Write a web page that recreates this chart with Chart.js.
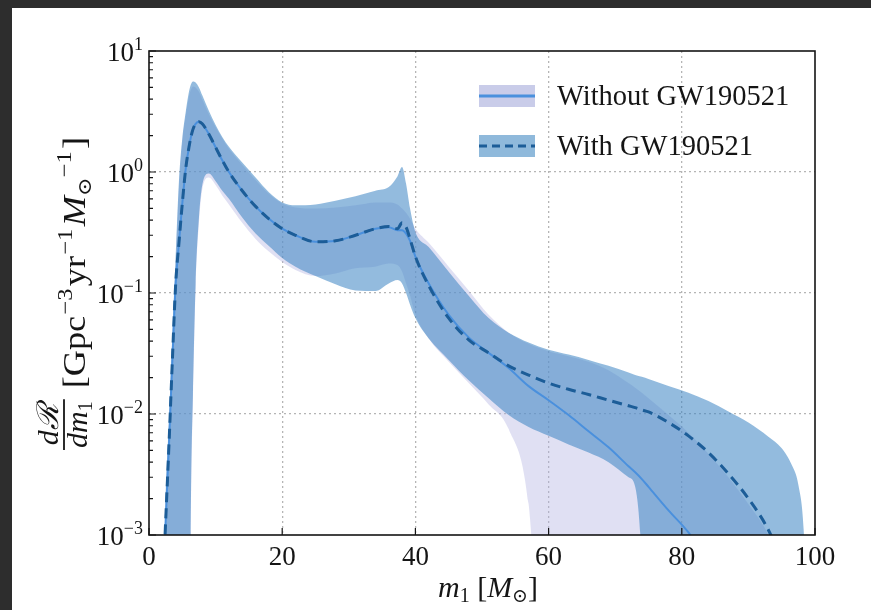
<!DOCTYPE html>
<html>
<head>
<meta charset="utf-8">
<script src="https://cdn.jsdelivr.net/npm/chart.js@4"></script>
<style>
  html, body { margin: 0; padding: 0; background: #2d2d2d; }
  #wrap { position: absolute; left: 12px; top: 8px; width: 859px; height: 602px; background: #fff; }
</style>
</head>
<body>
<div id="wrap"><canvas id="myChart" width="859" height="602"></canvas></div>
<script>
// primary mass grid (M_sun)
const mass = [
    2, 2.5, 3, 3.5, 4, 4.5, 5, 5.5, 6, 6.3,
    6.6, 7, 7.5, 8, 9, 10, 11, 12, 14, 16,
    18, 20, 22, 25, 28, 31, 34, 36, 37.3, 38,
    38.6, 39.2, 40, 42, 45, 48, 51, 54, 57, 60,
    63, 66, 69, 72, 73, 74, 75, 78, 81, 84,
    87, 90, 93, 95, 96.5, 97.5, 98.3, 99
];

// median rates
const withMedian = [
    3e-4, 0.0013, 0.0056, 0.027, 0.117, 0.26, 0.55, 1.05, 1.6, 1.95,
    2.25, 2.5, 2.6, 2.5, 2.05, 1.6, 1.25, 1.0, 0.7, 0.52,
    0.41, 0.34, 0.3, 0.265, 0.27, 0.3, 0.34, 0.355, 0.34, 0.38,
    0.35, 0.28, 0.2, 0.115, 0.062, 0.041, 0.032, 0.025, 0.021, 0.018,
    0.016, 0.0145, 0.013, 0.0117, 0.0113, 0.0108, 0.0104, 0.0085, 0.0066, 0.0048,
    0.0032, 0.002, 0.0011, 6e-4, 3e-4, 2e-4, 1e-4, 1e-4
];
const withoutMedian = [
    3e-4, 0.0013, 0.0056, 0.027, 0.117, 0.26, 0.55, 1.05, 1.6, 1.95,
    2.25, 2.5, 2.6, 2.5, 2.05, 1.6, 1.25, 1.0, 0.7, 0.52,
    0.41, 0.34, 0.3, 0.265, 0.27, 0.3, 0.34, 0.35, 0.33, 0.33,
    0.31, 0.27, 0.2, 0.12, 0.066, 0.043, 0.032, 0.024, 0.017, 0.013,
    0.0098, 0.0072, 0.0053, 0.0037, 0.0033, 0.0029, 0.0025, 0.0016, 0.00105, 6e-4,
    3.2e-4, 1.6e-4, 1e-4, 1e-4, 1e-4, 1e-4, 1e-4, 1e-4
];

// 90% credible bands
const withUpper = [
    1e-4, 0.002, 0.009, 0.045, 0.2, 0.85, 1.9, 3.1, 4.6, 5.3,
    5.6, 5.5, 5.0, 4.3, 3.2, 2.45, 1.95, 1.62, 1.2, 0.9,
    0.68, 0.56, 0.53, 0.54, 0.58, 0.63, 0.7, 0.75, 0.92, 1.1,
    0.8, 0.5, 0.32, 0.24, 0.15, 0.095, 0.062, 0.047, 0.039, 0.034,
    0.031, 0.028, 0.025, 0.022, 0.021, 0.0203, 0.0195, 0.017, 0.015, 0.0128,
    0.0105, 0.0085, 0.0065, 0.0052, 0.0038, 0.0026, 0.0011, 1e-4
];
const withLower = [
    1e-5, 1e-5, 1e-5, 1e-5, 1e-5, 1e-5, 1e-5, 1e-5, 1e-5, 0.002,
    0.015, 0.12, 0.42, 0.78, 0.97, 0.84, 0.7, 0.6, 0.42, 0.31,
    0.245, 0.195, 0.165, 0.138, 0.118, 0.105, 0.104, 0.12, 0.128, 0.12,
    0.1, 0.08, 0.062, 0.042, 0.028, 0.019, 0.0135, 0.0098, 0.0078, 0.0066,
    0.0056, 0.0048, 0.004, 0.003, 0.0025, 0.0006, 1e-5, 1e-5, 1e-5, 1e-5,
    1e-5, 1e-5, 1e-5, 1e-5, 1e-5, 1e-5, 1e-5, 1e-5
];
const withoutUpper = [
    1e-4, 0.0018, 0.008, 0.04, 0.18, 0.75, 1.8, 2.9, 4.2, 4.8,
    5.1, 5.0, 4.6, 4.0, 3.0, 2.35, 1.9, 1.56, 1.15, 0.86,
    0.66, 0.55, 0.51, 0.5, 0.51, 0.53, 0.56, 0.56, 0.54, 0.5,
    0.46, 0.41, 0.34, 0.26, 0.165, 0.105, 0.066, 0.047, 0.038, 0.033,
    0.03, 0.027, 0.023, 0.018, 0.0165, 0.015, 0.0135, 0.0098, 0.007, 0.0047,
    0.003, 0.0018, 0.001, 5e-4, 2e-4, 1e-4, 1e-4, 1e-4
];
const withoutLower = [
    1e-5, 1e-5, 1e-5, 1e-5, 1e-5, 1e-5, 1e-5, 1e-5, 1e-5, 0.0018,
    0.013, 0.11, 0.38, 0.72, 0.9, 0.78, 0.64, 0.54, 0.38, 0.28,
    0.22, 0.18, 0.155, 0.138, 0.145, 0.16, 0.165, 0.175, 0.17, 0.15,
    0.12, 0.095, 0.066, 0.042, 0.027, 0.018, 0.012, 0.0075, 0.0018, 1e-5,
    1e-5, 1e-5, 1e-5, 1e-5, 1e-5, 1e-5, 1e-5, 1e-5, 1e-5, 1e-5,
    1e-5, 1e-5, 1e-5, 1e-5, 1e-5, 1e-5, 1e-5, 1e-5
];

const xTicks = [0, 20, 40, 60, 80, 100];
const yTicks = [1e-3, 1e-2, 1e-1, 1, 10];
const yTickExp = ["\u22123", "\u22122", "\u22121", "0", "1"];
const legendLabels = ["Without GW190521", "With GW190521"];

const SERIF = "'Liberation Serif', 'DejaVu Serif', serif";
const colors = {
    withoutBand: "rgba(178, 178, 226, 0.4)",
    withBand: "rgba(62, 134, 196, 0.56)",
    withoutLine: "#4a90dd",
    withLine: "#1c5d98",
    withoutPatch: "#c9cce9",
    withPatch: "#8fb9db",
    grid: "#b5b5b5",
    ink: "#151515"
};

const toPoints = (ys) => mass.map((m, i) => ({ x: m, y: ys[i] }));

const lineDefaults = {
    pointRadius: 0,
    cubicInterpolationMode: "monotone",
    spanGaps: true
};

const datasets = [
    { ...lineDefaults, label: "withoutUpper", data: toPoints(withoutUpper), borderWidth: 0, fill: "+1", backgroundColor: colors.withoutBand, order: 3 },
    { ...lineDefaults, label: "withoutLower", data: toPoints(withoutLower), borderWidth: 0, fill: false, order: 3 },
    { ...lineDefaults, label: "withUpper", data: toPoints(withUpper), borderWidth: 0, fill: "+1", backgroundColor: colors.withBand, order: 2 },
    { ...lineDefaults, label: "withLower", data: toPoints(withLower), borderWidth: 0, fill: false, order: 2 },
    { ...lineDefaults, label: legendLabels[0], data: toPoints(withoutMedian), borderColor: colors.withoutLine, borderWidth: 2, fill: false, order: 1 },
    { ...lineDefaults, label: legendLabels[1], data: toPoints(withMedian), borderColor: colors.withLine, borderWidth: 3, borderDash: [10, 6], fill: false, order: 0 }
];

// draw a run of text pieces (sub/superscripts) left to right
const drawText = (ctx, parts, x, y) => {
    let cx = x;
    parts.forEach(p => {
        ctx.font = `${p.style || ""} ${p.size}px ${SERIF}`;
        ctx.fillText(p.t, cx, y + (p.dy || 0));
        cx += ctx.measureText(p.t).width + (p.gap || 0);
    });
    return cx - x;
};

const measureParts = (ctx, parts) => {
    let w = 0;
    parts.forEach(p => {
        ctx.font = `${p.style || ""} ${p.size}px ${SERIF}`;
        w += ctx.measureText(p.t).width + (p.gap || 0);
    });
    return w;
};

const decorations = {
    id: "decorations",
    afterDraw(chart) {
        const { ctx, chartArea: a, scales } = chart;
        const xs = scales.x, ys = scales.y;
        ctx.save();
        ctx.fillStyle = colors.ink;
        ctx.strokeStyle = colors.ink;

        // inward ticks
        ctx.lineWidth = 1.2;
        ctx.beginPath();
        xTicks.forEach(v => {
            const px = xs.getPixelForValue(v);
            ctx.moveTo(px, a.bottom);
            ctx.lineTo(px, a.bottom - 7);
        });
        for (let e = -3; e <= 1; e++) {
            for (let k = 1; k <= 9; k++) {
                const v = k * Math.pow(10, e);
                if (e === 1 && k > 1) continue;
                const py = ys.getPixelForValue(v);
                ctx.moveTo(a.left, py);
                ctx.lineTo(a.left + (k === 1 ? 7 : 4), py);
            }
        }
        ctx.stroke();

        // frame
        ctx.lineWidth = 1.6;
        ctx.strokeRect(a.left, a.top, a.right - a.left, a.bottom - a.top);

        // y tick labels with superscripts
        ctx.textAlign = "left";
        ctx.textBaseline = "alphabetic";
        yTicks.forEach((v, i) => {
            const py = ys.getPixelForValue(v);
            const parts = [
                { t: "10", size: 27 },
                { t: yTickExp[i], size: 18, dy: -11 }
            ];
            const w = measureParts(ctx, parts);
            drawText(ctx, parts, a.left - 6 - w, py + 10);
        });

        // x title: m_1 [M_sun]
        const xParts = [
            { t: "m", size: 30, style: "italic" },
            { t: "1", size: 20, dy: 5 },
            { t: " [", size: 30 },
            { t: "M", size: 30, style: "italic" },
            { t: "\u2299", size: 19, dy: 5 },
            { t: "]", size: 30 }
        ];
        const xw = measureParts(ctx, xParts);
        drawText(ctx, xParts, (a.left + a.right) / 2 - xw / 2 + 6, 589);

        // y title (rotated): dR/dm_1 [Gpc^-3 yr^-1 M_sun^-1]
        ctx.save();
        ctx.translate(0, 442);
        ctx.rotate(-Math.PI / 2);
        const num = [{ t: "d", size: 30, style: "italic" }, { t: "\u211B", size: 30, style: "italic" }];
        const den = [{ t: "dm", size: 30, style: "italic" }, { t: "1", size: 20, dy: 5 }];
        const nw = measureParts(ctx, num), dw = measureParts(ctx, den);
        const fw = Math.max(nw, dw) + 4;
        drawText(ctx, num, (fw - nw) / 2, 46);
        drawText(ctx, den, (fw - dw) / 2, 75);
        ctx.lineWidth = 1.8;
        ctx.beginPath();
        ctx.moveTo(0, 52);
        ctx.lineTo(fw, 52);
        ctx.stroke();
        const unit = [
            { t: "[Gpc", size: 31, gap: 1 },
            { t: "\u22123", size: 21, dy: -13, gap: 2 },
            { t: "yr", size: 31, gap: 1 },
            { t: "\u22121", size: 21, dy: -13, gap: 2 },
            { t: "M", size: 31, style: "italic" },
            { t: "\u2299", size: 19, dy: 6 },
            { t: "\u22121", size: 21, dy: -14, gap: 2 },
            { t: "]", size: 31 }
        ];
        ctx.translate(fw + 11, 0);
        ctx.scale(1.17, 1);
        drawText(ctx, unit, 0, 73);
        ctx.restore();

        // legend
        const lx = 467, lw = 56;
        [[77, colors.withoutPatch, colors.withoutLine, []], [127, colors.withPatch, colors.withLine, [8, 5]]].forEach(([top, patch, line, dash], i) => {
            ctx.fillStyle = patch;
            ctx.fillRect(lx, top, lw, 22);
            ctx.strokeStyle = line;
            ctx.lineWidth = 3;
            ctx.setLineDash(dash);
            ctx.beginPath();
            ctx.moveTo(lx, top + 11);
            ctx.lineTo(lx + lw, top + 11);
            ctx.stroke();
            ctx.setLineDash([]);
            ctx.fillStyle = colors.ink;
            ctx.font = `28.5px ${SERIF}`;
            ctx.fillText(legendLabels[i], 545, top + 20);
        });
        ctx.restore();
    }
};

const gridColor = (lo, hi) => (c) => {
    const v = c.tick && c.tick.value;
    return v > lo * 1.0001 && v < hi * 0.9999 ? colors.grid : "rgba(0,0,0,0)";
};

new Chart(document.querySelector("#myChart"), {
    type: "line",
    data: { datasets },
    options: {
        responsive: false,
        animation: false,
        devicePixelRatio: 1,
        layout: { padding: { top: 43, right: 56, left: 0, bottom: 0 } },
        plugins: { legend: { display: false }, tooltip: { enabled: false }, title: { display: false } },
        scales: {
            x: {
                type: "linear",
                min: 0,
                max: 100,
                afterBuildTicks: (s) => { s.ticks = xTicks.map(v => ({ value: v })); },
                afterFit: (s) => { s.height = 75; },
                ticks: {
                    padding: 7,
                    color: colors.ink,
                    font: { family: SERIF, size: 27 },
                    maxRotation: 0
                },
                grid: { color: gridColor(0, 100), lineWidth: 1.3, drawTicks: false },
                border: { display: false, dash: [2, 3] }
            },
            y: {
                type: "logarithmic",
                min: 1e-3,
                max: 10,
                afterBuildTicks: (s) => { s.ticks = yTicks.map(v => ({ value: v })); },
                afterFit: (s) => { s.width = 137; },
                ticks: { display: false },
                grid: { color: gridColor(1e-3, 10), lineWidth: 1.3, drawTicks: false },
                border: { display: false, dash: [2, 3] }
            }
        }
    },
    plugins: [decorations]
});
</script>
</body>
</html>
